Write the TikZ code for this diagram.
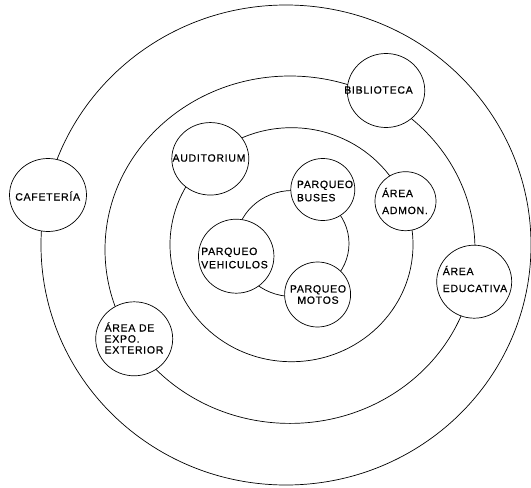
\documentclass[tikz,border=0pt]{standalone}
\usepackage{fontspec}
\setmainfont{Liberation Sans}
\newfontfamily\lblfont[LetterSpace=7,FakeBold=0.6]{Liberation Sans}
\usetikzlibrary{shapes.geometric}
\begin{document}
\begin{tikzpicture}[x=1pt,y=-1pt,
  ring/.style={draw=black, line width=0.7pt},
  area/.style={draw=black, line width=0.7pt, fill=white, ellipse, inner sep=0pt},
  lbl/.style={font=\lblfont\fontsize{10.5}{11}\selectfont, align=left, inner sep=0pt}]
\useasboundingbox (0,0) rectangle (531,488);
\fill[white] (0,0) rectangle (531,488);
% rings
\draw[ring] (286,245) ellipse [x radius=245pt, y radius=240pt];
\draw[ring] (290,249.7) ellipse [x radius=185pt, y radius=173.7pt];
\draw[ring] (291.5,244.7) ellipse [x radius=121.5pt, y radius=117pt];
\draw[ring] (292.5,243.5) ellipse [x radius=56.5pt, y radius=53pt];
% areas
\node[area, minimum width=77pt, minimum height=73pt] (caf) at (48,195) {};
\node[area, minimum width=77.5pt, minimum height=74pt] (bib) at (386,90.5) {};
\node[area, minimum width=77pt, minimum height=72.5pt] (aud) at (210.3,158.8) {};
\node[area, minimum width=64pt, minimum height=62pt] (bus) at (322.8,189.5) {};
\node[area, minimum width=61pt, minimum height=59pt] (adm) at (405.5,201.2) {};
\node[area, minimum width=75.5pt, minimum height=74pt] (veh) at (236.2,256.2) {};
\node[area, minimum width=66pt, minimum height=65pt] (mot) at (317.6,294.5) {};
\node[area, minimum width=75pt, minimum height=73pt] (edu) at (474.2,281.7) {};
\node[area, minimum width=77pt, minimum height=74pt] (exp) at (134.2,338.8) {};
% labels
\node[lbl] (caf-t) at (47.7,196) {CAFETERÍA};
\node[lbl] (bib-t) at (378.5,90) {BIBLIOTECA};
\node[lbl] (aud-t) at (209,158) {AUDITORIUM};
\node[lbl] (bus-t) at (325,191) {PARQUEO\\[2.3pt]BUSES};
\node[lbl] (adm-t) at (405,201) {ÁREA\\[6pt]ADMON.};
\node[lbl] (veh-t) at (234.5,258) {PARQUEO\\[2.3pt]VEHICULOS};
\node[lbl, align=center] (mot-t) at (318,294.5) {PARQUEO\\[0.3pt]MOTOS};
\node[lbl] (edu-t) at (475,279) {ÁREA\\[6pt]EDUCATIVA};
\node[lbl] (exp-t) at (134,338) {ÁREA DE\\EXPO.\\EXTERIOR};
\end{tikzpicture}
\end{document}
